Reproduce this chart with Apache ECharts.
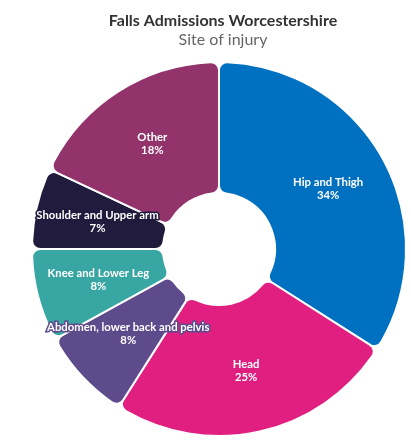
<!DOCTYPE html>
<html>
<head>
<meta charset="utf-8">
<script src="https://cdn.jsdelivr.net/npm/echarts@6/dist/echarts.min.js"></script>
<style>
html,body{margin:0;padding:0;background:#fff;}
#chart{width:411px;height:440px;}
</style>
</head>
<body>
<div id="chart"></div>
<script>
const titleText = "Falls Admissions Worcestershire";
const subtitleText = "Site of injury";
const categories = ["Hip and Thigh", "Head", "Abdomen, lower back and pelvis", "Knee and Lower Leg", "Shoulder and Upper arm", "Other"];
const values = [34, 25, 8, 8, 7, 18];
const colors = ["#0070C0", "#E01F80", "#5E4B8C", "#38A6A3", "#211B3D", "#92346B"];

const chart = echarts.init(document.getElementById('chart'), null, {renderer: 'canvas'});
const FONT = 'Lato';
const data = categories.map((c, i) => ({
  name: c,
  value: values[i],
  itemStyle: {color: colors[i]},
  label: {textBorderColor: colors[i]}
}));
chart.setOption({
  animation: false,
  title: {
    text: titleText,
    subtext: subtitleText,
    left: 218,
    textAlign: 'center',
    top: 8,
    itemGap: 3,
    textStyle: {fontFamily: FONT, fontSize: 16, fontWeight: 'bold', color: '#333333'},
    subtextStyle: {fontFamily: FONT, fontSize: 16, color: '#666666'}
  },
  series: [{
    type: 'pie',
    center: [219, 249],
    radius: [56, 187],
    startAngle: 90,
    clockwise: true,
    avoidLabelOverlap: false,
    itemStyle: {borderColor: '#ffffff', borderWidth: 2, borderRadius: 8},
    label: {
      show: true,
      position: 'inside',
      formatter: '{b}\n{c}%',
      color: '#ffffff',
      fontFamily: FONT,
      fontSize: 11.3,
      fontWeight: 'bold',
      lineHeight: 13,
      textBorderWidth: 3
    },
    labelLine: {show: false},
    emphasis: {disabled: true},
    data: data
  }]
});
</script>
</body>
</html>
